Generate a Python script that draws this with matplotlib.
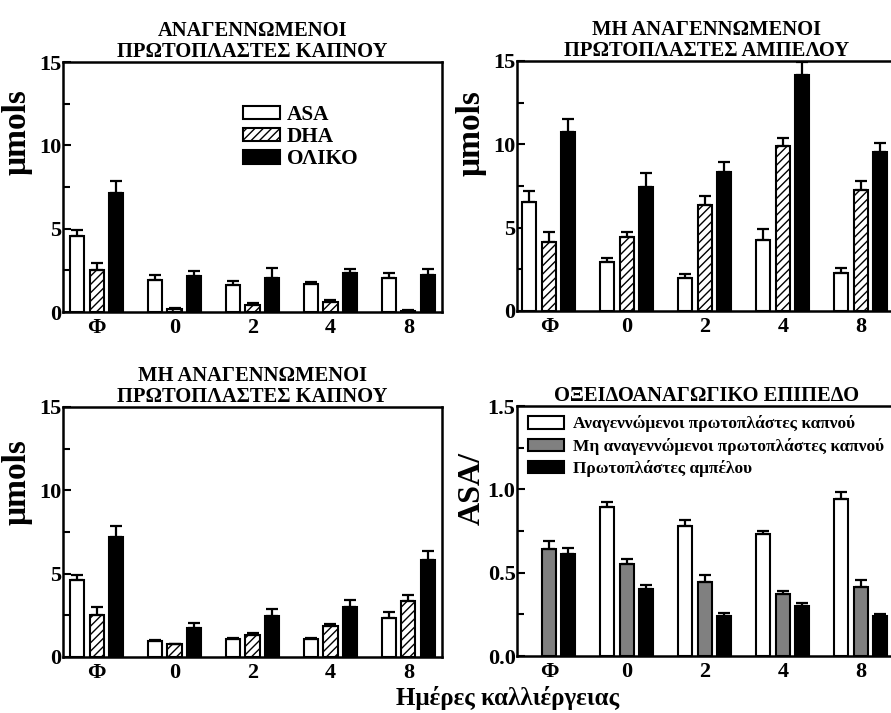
import numpy as np
import matplotlib.pyplot as plt
from matplotlib.ticker import MultipleLocator

plt.rcParams['font.family'] = ['Liberation Serif', 'DejaVu Serif']
plt.rcParams['font.weight'] = 'bold'
plt.rcParams['hatch.linewidth'] = 1.0

# --- data ---
days = ['Φ', '0', '2', '4', '8']

# regenerated tobacco protoplasts
tob_reg_asa = [4.56, 1.90, 1.60, 1.68, 2.04]
tob_reg_asa_err = [0.34, 0.34, 0.24, 0.12, 0.30]
tob_reg_dha = [2.54, 0.16, 0.40, 0.58, 0.08]
tob_reg_dha_err = [0.42, 0.10, 0.14, 0.12, 0.06]
tob_reg_tot = [7.16, 2.14, 2.06, 2.36, 2.20]
tob_reg_tot_err = [0.70, 0.32, 0.58, 0.24, 0.40]

# non-regenerated grapevine protoplasts
vine_asa = [6.54, 2.97, 2.00, 4.27, 2.31]
vine_asa_err = [0.64, 0.20, 0.20, 0.66, 0.30]
vine_dha = [4.13, 4.45, 6.38, 9.89, 7.26]
vine_dha_err = [0.58, 0.28, 0.54, 0.46, 0.56]
vine_tot = [10.71, 7.44, 8.36, 14.16, 9.54]
vine_tot_err = [0.82, 0.84, 0.58, 0.80, 0.55]

# non-regenerated tobacco protoplasts
tob_non_asa = [4.60, 0.94, 1.10, 1.10, 2.36]
tob_non_asa_err = [0.30, 0.06, 0.06, 0.04, 0.34]
tob_non_dha = [2.54, 0.76, 1.34, 1.86, 3.38]
tob_non_dha_err = [0.46, 0.04, 0.10, 0.12, 0.32]
tob_non_tot = [7.20, 1.74, 2.46, 3.00, 5.80]
tob_non_tot_err = [0.66, 0.30, 0.44, 0.40, 0.56]

# redox state (ASA / total)
redox_tob_reg = [np.nan, 0.895, 0.783, 0.735, 0.94]
redox_tob_reg_err = [np.nan, 0.030, 0.032, 0.014, 0.047]
redox_tob_non = [0.64, 0.555, 0.447, 0.375, 0.413]
redox_tob_non_err = [0.05, 0.025, 0.038, 0.015, 0.042]
redox_vine = [0.613, 0.40, 0.238, 0.30, 0.238]
redox_vine_err = [0.037, 0.025, 0.018, 0.02, 0.012]

x = np.arange(len(days))
w = 0.18
off = 0.25


def bars(ax, vals, errs, color, hatch=None, label=None, dx=0.0):
    ax.bar(x + dx, vals, w, color=color, edgecolor='black', linewidth=1.5,
           hatch=hatch, label=label, zorder=2)
    ax.errorbar(x + dx, vals, yerr=[np.zeros(len(vals)), errs], fmt='none',
                ecolor='black', elinewidth=1.6, capsize=4, capthick=1.6, zorder=3)


def style(ax, title, ymax, step, xlim):
    ax.set_xlim(*xlim)
    ax.set_ylim(0, ymax)
    ax.set_xticks(x)
    ax.set_xticklabels(days)
    ax.yaxis.set_major_locator(MultipleLocator(step))
    ax.yaxis.set_minor_locator(MultipleLocator(step / 2))
    ax.tick_params(axis='y', which='major', direction='in', length=6, width=1.5,
                   labelsize=16, pad=1)
    ax.tick_params(axis='y', which='minor', direction='in', length=5, width=1.5)
    ax.tick_params(axis='x', length=0, labelsize=16, pad=4)
    for s in ax.spines.values():
        s.set_linewidth(1.8)
    ax.set_title(title, fontsize=14.8, fontweight='bold', pad=3, linespacing=1.05)


fig = plt.figure(figsize=(8.91, 7.13), dpi=100)
W = 379 / 891
H = 250 / 713
ax1 = fig.add_axes([63 / 891, 1 - 312 / 713, W, H])
ax2 = fig.add_axes([517 / 891, 1 - 311 / 713, W, H])
ax3 = fig.add_axes([63 / 891, 1 - 657 / 713, W, H])
ax4 = fig.add_axes([517 / 891, 1 - 656 / 713, W, H])

left_lim = (-0.43, 4.43)
right_lim = (-0.41, 4.45)

bars(ax1, tob_reg_asa, tob_reg_asa_err, 'white', label='ASA', dx=-off)
bars(ax1, tob_reg_dha, tob_reg_dha_err, 'white', hatch='////', label='DHA')
bars(ax1, tob_reg_tot, tob_reg_tot_err, 'black', label='ΟΛΙΚΟ', dx=off)
style(ax1, 'ΑΝΑΓΕΝΝΩΜΕΝΟΙ\nΠΡΩΤΟΠΛΑΣΤΕΣ ΚΑΠΝΟΥ', 15, 5, left_lim)
ax1.legend(loc='upper left', bbox_to_anchor=(0.475, 0.828), frameon=False,
           prop={'size': 15.3, 'weight': 'bold'}, handlelength=1.75,
           handleheight=0.6, handletextpad=0.3, labelspacing=0.1,
           borderaxespad=0, borderpad=0)

bars(ax2, vine_asa, vine_asa_err, 'white', dx=-off)
bars(ax2, vine_dha, vine_dha_err, 'white', hatch='////')
bars(ax2, vine_tot, vine_tot_err, 'black', dx=off)
style(ax2, 'ΜΗ ΑΝΑΓΕΝΝΩΜΕΝΟΙ\nΠΡΩΤΟΠΛΑΣΤΕΣ ΑΜΠΕΛΟΥ', 15, 5, right_lim)

bars(ax3, tob_non_asa, tob_non_asa_err, 'white', dx=-off)
bars(ax3, tob_non_dha, tob_non_dha_err, 'white', hatch='////')
bars(ax3, tob_non_tot, tob_non_tot_err, 'black', dx=off)
style(ax3, 'ΜΗ ΑΝΑΓΕΝΝΩΜΕΝΟΙ\nΠΡΩΤΟΠΛΑΣΤΕΣ ΚΑΠΝΟΥ', 15, 5, left_lim)

bars(ax4, redox_tob_reg, redox_tob_reg_err, 'white',
     label='Αναγεννώμενοι πρωτοπλάστες καπνού', dx=-off)
bars(ax4, redox_tob_non, redox_tob_non_err, '#808080',
     label='Μη αναγεννώμενοι πρωτοπλάστες καπνού')
bars(ax4, redox_vine, redox_vine_err, 'black',
     label='Πρωτοπλάστες αμπέλου', dx=off)
style(ax4, 'ΟΞΕΙΔΟΑΝΑΓΩΓΙΚΟ ΕΠΙΠΕΔΟ', 1.5, 0.5, right_lim)
ax4.yaxis.set_major_formatter('{x:.1f}')
ax4.legend(loc='upper left', bbox_to_anchor=(0.028, 0.962), frameon=False,
           prop={'size': 12.5, 'weight': 'bold'}, handlelength=2.1,
           handleheight=0.7, handletextpad=0.5, labelspacing=0.3,
           borderaxespad=0, borderpad=0)

for ax in (ax1, ax2, ax3):
    ax.set_ylabel('μmols', fontsize=24, fontweight='bold')
ax1.yaxis.set_label_coords(-0.08, 0.72)
ax2.yaxis.set_label_coords(-0.08, 0.71)
ax3.yaxis.set_label_coords(-0.08, 0.70)
ax4.set_ylabel('ASA/', fontsize=23, fontweight='bold')
ax4.yaxis.set_label_coords(-0.08, 0.67)

fig.text(508 / 891, 1 - 705 / 713, 'Ημέρες καλλιέργειας', ha='center',
         va='baseline', fontsize=18, fontweight='bold')

fig.savefig('out.png', dpi=100)
